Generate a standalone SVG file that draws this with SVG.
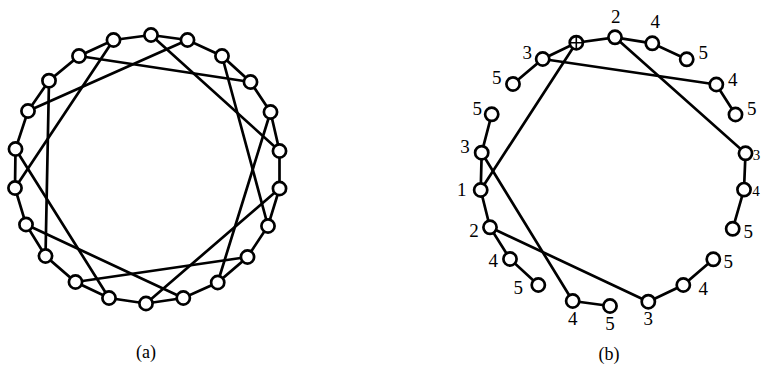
<svg xmlns="http://www.w3.org/2000/svg" width="761" height="371" viewBox="0 0 761 371">
<defs>
<style>
.e{stroke:#000;stroke-width:2.7;fill:none;stroke-linecap:round}
.n{fill:#fff;stroke:#000;stroke-width:2.7}
.t{font-family:"Liberation Serif","Times New Roman",serif;font-size:19px;fill:#000;text-anchor:middle}
.c{font-family:"Liberation Serif","Times New Roman",serif;font-size:18px;fill:#000;text-anchor:middle}
</style>
<circle id="v" class="n" r="6.6"/>
</defs>
<rect width="761" height="371" fill="#fff"/>
<g id="connectors">
<polygon class="e" points="151,35 187.5,40 222,56 250.5,82 270.5,112 279.5,151 279.5,188.5 268,226 247.5,257 217.7,282.5 183.3,298 146,303.5 109,298 75.5,282 45.5,256 26,224.5 15,188 15.5,149 28,111 49,80.7 79,56 113.5,40"/>
<line class="e" x1="151" y1="35" x2="279.5" y2="151"/>
<line class="e" x1="187.5" y1="40" x2="28" y2="111"/>
<line class="e" x1="222" y1="56" x2="268" y2="226"/>
<line class="e" x1="250.5" y1="82" x2="79" y2="56"/>
<line class="e" x1="270.5" y1="112" x2="217.7" y2="282.5"/>
<line class="e" x1="279.5" y1="188.5" x2="146" y2="303.5"/>
<line class="e" x1="247.5" y1="257" x2="75.5" y2="282"/>
<line class="e" x1="183.3" y1="298" x2="26" y2="224.5"/>
<line class="e" x1="109" y1="298" x2="15.5" y2="149"/>
<line class="e" x1="45.5" y1="256" x2="49" y2="80.7"/>
<line class="e" x1="15" y1="188" x2="113.5" y2="40"/>
<polyline class="e" points="513,84 542.7,59 576.3,42.7 615,37.3 652.3,43.3 686.7,59.3"/>
<line class="e" x1="542.7" y1="59" x2="716.3" y2="84.5"/>
<line class="e" x1="716.3" y1="84.5" x2="735.5" y2="114.5"/>
<polyline class="e" points="615,37.3 745.5,153.3 744,189.6 732.7,228.8"/>
<line class="e" x1="576.3" y1="42.7" x2="480.7" y2="190"/>
<polyline class="e" points="491.7,114.3 481.7,152.7 480.7,190 490,227.3 510,259 538.3,285"/>
<line class="e" x1="481.7" y1="152.7" x2="572.7" y2="301"/>
<line class="e" x1="572.7" y1="301" x2="610" y2="306"/>
<polyline class="e" points="490,227.3 648.3,301.7 683.3,285 713.3,259.3"/>
</g>
<g id="graph-a">
<g id="a1"><use href="#v" x="151" y="35"/></g>
<g id="a2"><use href="#v" x="187.5" y="40"/></g>
<g id="a3"><use href="#v" x="222" y="56"/></g>
<g id="a4"><use href="#v" x="250.5" y="82"/></g>
<g id="a5"><use href="#v" x="270.5" y="112"/></g>
<g id="a6"><use href="#v" x="279.5" y="151"/></g>
<g id="a7"><use href="#v" x="279.5" y="188.5"/></g>
<g id="a8"><use href="#v" x="268" y="226"/></g>
<g id="a9"><use href="#v" x="247.5" y="257"/></g>
<g id="a10"><use href="#v" x="217.7" y="282.5"/></g>
<g id="a11"><use href="#v" x="183.3" y="298"/></g>
<g id="a12"><use href="#v" x="146" y="303.5"/></g>
<g id="a13"><use href="#v" x="109" y="298"/></g>
<g id="a14"><use href="#v" x="75.5" y="282"/></g>
<g id="a15"><use href="#v" x="45.5" y="256"/></g>
<g id="a16"><use href="#v" x="26" y="224.5"/></g>
<g id="a17"><use href="#v" x="15" y="188"/></g>
<g id="a18"><use href="#v" x="15.5" y="149"/></g>
<g id="a19"><use href="#v" x="28" y="111"/></g>
<g id="a20"><use href="#v" x="49" y="80.7"/></g>
<g id="a21"><use href="#v" x="79" y="56"/></g>
<g id="a22"><use href="#v" x="113.5" y="40"/></g>
</g>
<g id="graph-b">
<g id="b-root"><use href="#v" x="576.3" y="42.7"/><path d="M569.7,42.7H582.9M576.3,36.1V49.3" stroke="#000" stroke-width="1.6"/></g>
<g id="b2t"><use href="#v" x="615" y="37.3"/><text class="t" x="615.7" y="23">2</text></g>
<g id="b4t"><use href="#v" x="652.3" y="43.3"/><text class="t" x="655.3" y="28">4</text></g>
<g id="b5t"><use href="#v" x="686.7" y="59.3"/><text class="t" x="703.3" y="59">5</text></g>
<g id="b3tl"><use href="#v" x="542.7" y="59"/><text class="t" x="527.3" y="59">3</text></g>
<g id="b5tl"><use href="#v" x="513" y="84"/><text class="t" x="496.7" y="83.5">5</text></g>
<g id="b4r"><use href="#v" x="716.3" y="84.5"/><text class="t" x="732.7" y="85.5">4</text></g>
<g id="b5r"><use href="#v" x="735.5" y="114.5"/><text class="t" x="751.7" y="114.5">5</text></g>
<g id="b3r"><use href="#v" x="745.5" y="153.3"/><text class="t" x="756.5" y="159.5" style="font-size:15px">3</text></g>
<g id="b4r2"><use href="#v" x="744" y="189.6"/><text class="t" x="756" y="195.5" style="font-size:15px">4</text></g>
<g id="b5r2"><use href="#v" x="732.7" y="228.8"/><text class="t" x="748.3" y="237.5">5</text></g>
<g id="b5br"><use href="#v" x="713.3" y="259.3"/><text class="t" x="728.3" y="268">5</text></g>
<g id="b4br"><use href="#v" x="683.3" y="285"/><text class="t" x="703.3" y="294.5">4</text></g>
<g id="b3b"><use href="#v" x="648.3" y="301.7"/><text class="t" x="648.3" y="324.5">3</text></g>
<g id="b5b"><use href="#v" x="610" y="306"/><text class="t" x="610" y="330">5</text></g>
<g id="b4b"><use href="#v" x="572.7" y="301"/><text class="t" x="572.7" y="325">4</text></g>
<g id="b5bl"><use href="#v" x="538.3" y="285"/><text class="t" x="518.3" y="293.5">5</text></g>
<g id="b4bl"><use href="#v" x="510" y="259"/><text class="t" x="493.3" y="267">4</text></g>
<g id="b2l"><use href="#v" x="490" y="227.3"/><text class="t" x="474" y="237">2</text></g>
<g id="b1"><use href="#v" x="480.7" y="190"/><text class="t" x="461.7" y="195.5">1</text></g>
<g id="b3l"><use href="#v" x="481.7" y="152.7"/><text class="t" x="465" y="153">3</text></g>
<g id="b5l"><use href="#v" x="491.7" y="114.3"/><text class="t" x="477.3" y="115">5</text></g>
</g>
<text class="c" x="146" y="358">(a)</text>
<text class="c" x="609" y="360">(b)</text>
</svg>
